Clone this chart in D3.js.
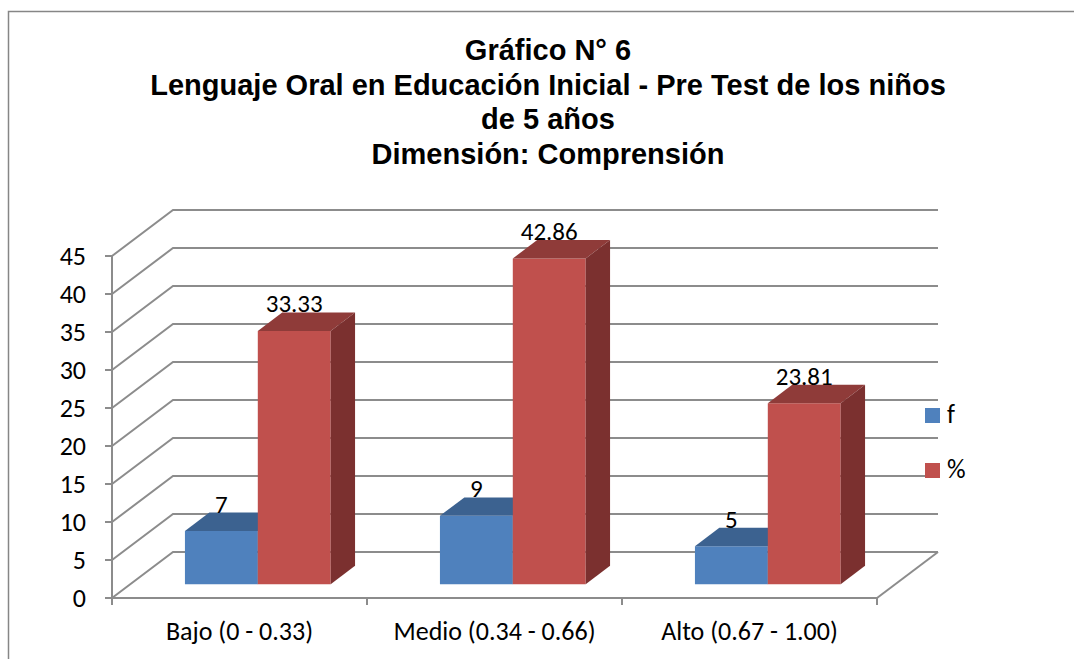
<!DOCTYPE html>
<html>
<head>
<meta charset="utf-8">
<script src="https://cdn.jsdelivr.net/npm/d3@7"></script>
<style>
  html, body { margin: 0; padding: 0; background: #fff; }
  svg { display: block; }
</style>
</head>
<body>
<div id="chart"></div>
<script>
const categories = ['Bajo (0 - 0.33)', 'Medio (0.34 - 0.66)', 'Alto (0.67 - 1.00)'];
const seriesNames = ['f', '%'];
const fValues = [7, 9, 5];
const pctValues = [33.33, 42.86, 23.81];
const yTicks = [0, 5, 10, 15, 20, 25, 30, 35, 40, 45];
const titleLines = [
  'Gráfico N° 6',
  'Lenguaje Oral en Educación Inicial - Pre Test de los niños',
  'de 5 años',
  'Dimensión: Comprensión'
];

const width = 1074;
const height = 659;
const labelFont = 'Carlito, Lato, "Open Sans", sans-serif';

// depth of the 3d box (offset of back wall from front plane)
const DX = 61;
const DY = -46;
const z0 = 0.3, z1 = 0.7; // bar depth span

const colors = {
  f: { front: '#4F81BD', top: '#3C6290', side: '#34557d' },
  '%': { front: '#C0504D', top: '#8F3B39', side: '#7B302F' }
};

const svg = d3.select('#chart')
  .append('svg')
  .attr('width', width)
  .attr('height', height);

// outer frame
svg.append('rect')
  .attr('x', 8.5).attr('y', 11.5)
  .attr('width', width + 10).attr('height', height + 10)
  .attr('fill', 'none')
  .attr('stroke', '#868686')
  .attr('stroke-width', 1.5);

// title
const title = svg.append('text')
  .attr('text-anchor', 'middle')
  .style('font-family', '"Liberation Sans", Arial, sans-serif')
  .style('font-weight', 'bold')
  .style('font-size', '29px')
  .attr('fill', '#000');
titleLines.forEach((t, i) => {
  title.append('tspan')
    .attr('x', 548)
    .attr('y', 60 + i * 34.5)
    .text(t);
});

const x = d3.scaleBand()
  .domain(categories)
  .range([112, 877]);

const xInner = d3.scaleBand()
  .domain(seriesNames)
  .range([0, x.bandwidth()])
  .paddingInner(0)
  .paddingOuter(0.75);

const y = d3.scaleLinear()
  .domain([0, 45])
  .range([598, 256]);

const proj = (px, py, z) => [px + z * DX, py + z * DY];

const grid = svg.append('g')
  .attr('stroke', '#8c8c8c')
  .attr('stroke-width', 2)
  .attr('fill', 'none');

const xLeft = x.range()[0];
const xRight = x.range()[1];

// wall gridlines: diagonal on side wall + horizontal on back wall
yTicks.forEach(t => {
  const [bx, by] = proj(xLeft, y(t), 1);
  const [ex] = proj(xRight, y(t), 1);
  grid.append('path')
    .attr('d', `M${xLeft},${y(t)}L${bx},${by}L${ex},${by}`);
  // small tick on front axis
  grid.append('line')
    .attr('x1', xLeft - 7).attr('x2', xLeft)
    .attr('y1', y(t)).attr('y2', y(t));
});

// floor right edge
{
  const [bx, by] = proj(xRight, y(0), 1);
  grid.append('path').attr('d', `M${xRight},${y(0)}L${bx},${by}`);
}
// front floor line + vertical axis
grid.append('line')
  .attr('x1', xLeft).attr('x2', xRight)
  .attr('y1', y(0)).attr('y2', y(0));
grid.append('line')
  .attr('x1', xLeft).attr('x2', xLeft)
  .attr('y1', y(0)).attr('y2', y(45));

// category ticks
const bounds = categories.map(c => x(c)).concat([xRight]);
bounds.forEach(b => {
  grid.append('line')
    .attr('x1', b).attr('x2', b)
    .attr('y1', y(0)).attr('y2', y(0) + 7);
});

// y tick labels
svg.append('g')
  .selectAll('text')
  .data(yTicks)
  .join('text')
  .attr('x', 86)
  .attr('y', d => y(d))
  .attr('dy', '0.33em')
  .attr('text-anchor', 'end')
  .style('font-family', labelFont)
  .style('font-size', '26px')
  .text(d => d);

// x labels
svg.append('g')
  .selectAll('text')
  .data(categories)
  .join('text')
  .attr('x', d => x(d) + x.bandwidth() / 2)
  .attr('y', 640)
  .attr('text-anchor', 'middle')
  .style('font-family', labelFont)
  .style('font-size', '26px')
  .text(d => d);

// bars
const seriesData = [
  { key: 'f', values: fValues, fmt: d => d3.format('d')(d) },
  { key: '%', values: pctValues, fmt: d => d3.format('.2f')(d) }
];

const bars = svg.append('g');
const labels = svg.append('g');

categories.forEach((cat, ci) => {
  seriesData.forEach(s => {
    const v = s.values[ci];
    const xa = x(cat) + xInner(s.key);
    const xb = xa + xInner.bandwidth();
    const yt = y(v);
    const yb = y(0);
    const c = colors[s.key];
    const P = (px, py, z) => proj(px, py, z).join(',');
    // front face
    bars.append('path')
      .attr('d', `M${P(xa, yb, z0)}L${P(xb, yb, z0)}L${P(xb, yt, z0)}L${P(xa, yt, z0)}Z`)
      .attr('fill', c.front);
    // top face
    bars.append('path')
      .attr('d', `M${P(xa, yt, z0)}L${P(xb, yt, z0)}L${P(xb, yt, z1)}L${P(xa, yt, z1)}Z`)
      .attr('fill', c.top);
    // side face
    bars.append('path')
      .attr('d', `M${P(xb, yb, z0)}L${P(xb, yb, z1)}L${P(xb, yt, z1)}L${P(xb, yt, z0)}Z`)
      .attr('fill', c.side);
    // value label
    const [lx] = proj((xa + xb) / 2, yt, z0);
    const [, ly] = proj(xa, yt, z1);
    labels.append('text')
      .attr('x', lx)
      .attr('y', ly)
      .attr('text-anchor', 'middle')
      .style('font-family', labelFont)
      .style('font-size', '25px')
      .text(s.fmt(v));
  });
});

// legend
const legend = svg.append('g');
seriesNames.forEach((name, i) => {
  const row = legend.append('g')
    .attr('transform', `translate(925, ${408 + i * 55})`);
  row.append('rect')
    .attr('width', 15).attr('height', 15)
    .attr('fill', colors[name].front);
  row.append('text')
    .attr('x', 22)
    .attr('y', 15)
    .style('font-family', labelFont)
    .style('font-size', '26px')
    .text(name);
});
</script>
</body>
</html>
